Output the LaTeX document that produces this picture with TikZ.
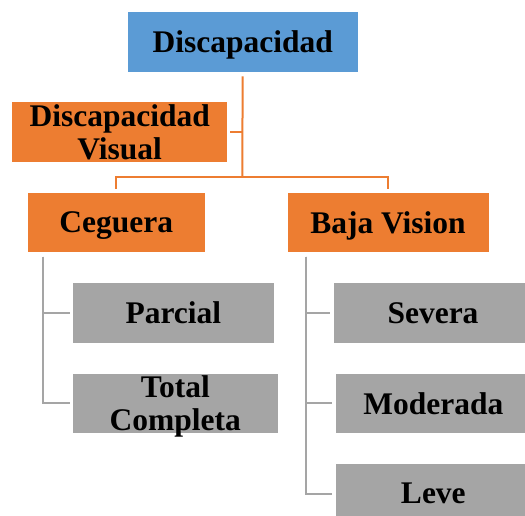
\documentclass[tikz,border=0pt]{standalone}
\usepackage{fontspec}
\setmainfont{Liberation Serif}
\definecolor{cblue}{HTML}{5B9BD5}
\definecolor{corange}{HTML}{ED7D31}
\definecolor{cgray}{HTML}{A5A5A5}
\begin{document}
\begin{tikzpicture}[x=1pt,y=-1pt,
  box/.style={draw=white, line width=0.8pt, inner sep=0pt, minimum height=60.6pt,
    font=\fontsize{31.5}{33}\selectfont\bfseries, text depth=0pt, align=center},
  bluebox/.style={box, fill=cblue},
  orangebox/.style={box, fill=corange},
  graybox/.style={box, fill=cgray},
  oline/.style={draw=corange, line width=2pt},
  gline/.style={draw=cgray, line width=2pt}]
\clip (0,0) rectangle (525,516);
\fill[white] (0,0) rectangle (525,516);
\node[bluebox, minimum width=231.3pt] (top) at (242.65,42) {Discapacidad};
\node[orangebox, minimum width=216pt, minimum height=61pt] (vis) at (119.7,132.2) {Discapacidad\\Visual};
\node[orangebox, minimum width=178.7pt, minimum height=60pt] (ceg) at (116.35,222.3) {Ceguera};
\node[orangebox, minimum width=202pt, minimum height=60pt] (baja) at (388,222.3) {Baja Vision};
\node[graybox, minimum width=201.3pt] (par) at (173.35,313) {Parcial};
\node[graybox, minimum width=205.3pt] (tot) at (175.35,403.35) {Total\\Completa};
\node[graybox, minimum width=200pt] (sev) at (433,313) {Severa};
\node[graybox, minimum width=196.7pt] (mod) at (433.35,403.35) {Moderada};
\node[graybox, minimum width=196.7pt] (leve) at (433.35,493.65) {Leve};
\coordinate (hub) at (242.3,176.7);
\draw[oline, shorten <=3.7pt] (top.south) -- (hub);
\draw[oline, shorten <=2pt] (vis.east) -- (vis.east -| hub);
\draw[oline, shorten >=3pt] (hub) -| (ceg.north);
\draw[oline, shorten >=3pt] (hub) -| (baja.north);
\coordinate (cg) at ([xshift=16.3pt]ceg.south west);
\coordinate (bj) at ([xshift=19.7pt]baja.south west);
\draw[gline, shorten <=4pt, shorten >=2.7pt] (cg) |- (par.west);
\draw[gline, shorten <=4pt, shorten >=2.7pt] (cg) |- (tot.west);
\draw[gline, shorten <=4pt, shorten >=2.3pt] (bj) |- (sev.west);
\draw[gline, shorten <=4pt, shorten >=3pt] (bj) |- (mod.west);
\draw[gline, shorten <=4pt, shorten >=3pt] (bj) |- (leve.west);
\end{tikzpicture}
\end{document}
